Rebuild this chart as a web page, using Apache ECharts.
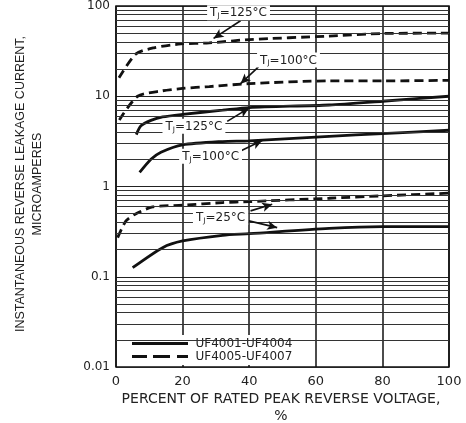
<!DOCTYPE html>
<html><head><meta charset="utf-8">
<script src="https://cdn.jsdelivr.net/npm/echarts@6/dist/echarts.min.js"></script>
<style>html,body{margin:0;padding:0;background:#fff}#c{width:466px;height:423px}</style>
</head><body><div id="c"></div>
<script>
// ---- data ----
const xTicks = [0, 20, 40, 60, 80, 100];
const yDecades = [0.01, 0.1, 1, 10, 100];
const yTickLabels = ['0.01', '0.1', '1', '10', '100'];
const legendNames = ['UF4001-UF4004', 'UF4005-UF4007'];

// UF4001-UF4004 (solid)
const solid125 = [[6.1,3.76],[7.5,4.7],[10.5,5.4],[14,5.9],[20,6.3],[32,7.0],[40,7.5],[64,8.0],[80,8.8],[100,10]];
const solid100 = [[7.1,1.43],[10.5,2.0],[13.5,2.4],[20,2.9],[32,3.15],[40,3.2],[64,3.6],[80,3.85],[100,4.2]];
const solid25  = [[5,0.126],[14,0.21],[20,0.249],[32,0.288],[40,0.3],[64,0.344],[80,0.36],[100,0.36]];
// UF4005-UF4007 (dashed)
const dash125 = [[0.9,16],[6,29.5],[11.4,34.4],[19.5,38],[28,39],[40,42.5],[64,46.4],[80,49.6],[100,50]];
const dash100 = [[1,5.45],[6.5,10],[14,11.5],[20,12.2],[28,12.8],[40,13.8],[64,14.8],[80,14.8],[100,15.0]];
const dash25  = [[0.5,0.271],[3,0.416],[5.6,0.49],[11,0.594],[20,0.62],[32,0.664],[40,0.68],[64,0.741],[80,0.788],[100,0.843]];

// annotations
const noteTemps = ['125', '100', '125', '100', '25'];
const noteAt = [[36.8,84],[51.8,25.2],[23.4,4.65],[28.4,2.17],[31.4,0.453]];
const arrowFrom = [[37.4,68.7],[42.8,21.2],[33.4,5.27],[37.4,2.47],[40.4,0.537],[39.9,0.416]];
const arrowTo   = [[29.3,43.7],[37.4,13.8],[39.9,7.38],[43.9,3.23],[46.9,0.636],[48.4,0.35]];

// ---- chart ----
const minorValues = [];
yDecades.slice(0, -1).forEach(d => { for (let k = 2; k <= 9; k++) minorValues.push(d * k); });

const chart = echarts.init(document.getElementById('c'), null, {renderer: 'canvas'});
const ink = '#111';
function curve(name, data, dashed) {
  return {
    type: 'line', name: name, data: data, smooth: 0.25, symbol: 'none', silent: true, z: 3,
    lineStyle: {color: ink, width: 2.8, type: dashed ? [9, 5] : 'solid', cap: 'butt'},
    itemStyle: {color: ink}
  };
}
const richStyles = {
  a: {fontFamily: 'DejaVu Sans', fontSize: 12, color: '#222', lineHeight: 14},
  s: {fontFamily: 'DejaVu Sans', fontSize: 7.5, color: '#222', lineHeight: 14, verticalAlign: 'bottom', padding: [4, 0, 0, 0]}
};
const solidIcon = 'path://M0,0h56v3h-56z';
const dashIcon = 'path://M0,0h15v3h-15zM21,0h17v3h-17zM45,0h11v3h-11z';

chart.setOption({
  animation: false,
  backgroundColor: '#fff',
  grid: {left: 116, right: 17, top: 6, bottom: 56, show: true, borderColor: '#111', borderWidth: 1.5, backgroundColor: 'transparent'},
  xAxis: {
    type: 'value', min: 0, max: 100, interval: 20,
    axisLine: {show: false}, axisTick: {show: false},
    splitLine: {show: true, lineStyle: {color: '#111', width: 1.5}},
    axisLabel: {fontFamily: 'DejaVu Sans', fontSize: 13, color: '#222', margin: 8,
      formatter: v => String(xTicks.find(t => t === v) ?? v)}
  },
  yAxis: {
    type: 'log', logBase: 10, min: yDecades[0], max: yDecades[yDecades.length - 1],
    axisLine: {show: false}, axisTick: {show: false},
    splitLine: {show: true, lineStyle: {color: '#222', width: 1}},
    axisLabel: {fontFamily: 'DejaVu Sans', fontSize: 12, color: '#222', margin: 6,
      formatter: v => { const i = yDecades.findIndex(d => Math.abs(Math.log10(d) - Math.log10(v)) < 1e-6); return i >= 0 ? yTickLabels[i] : ''; }}
  },
  legend: {
    data: [{name: legendNames[0], icon: solidIcon}, {name: legendNames[1], icon: dashIcon}],
    orient: 'vertical', left: 122, top: 335,
    backgroundColor: '#fff', padding: [2, 2, 2, 10], itemGap: 0,
    itemWidth: 57, itemHeight: 3,
    itemStyle: {color: ink, borderWidth: 0},
    textStyle: {fontFamily: 'DejaVu Sans', fontSize: 12, color: '#222', lineHeight: 13, padding: [0, 0, 0, 2]},
    selectedMode: false
  },
  graphic: [
    {type: 'text', x: 29, y: 184, rotation: Math.PI / 2, z: 10,
     style: {text: 'INSTANTANEOUS REVERSE LEAKAGE CURRENT,\nMICROAMPERES', align: 'center', verticalAlign: 'middle',
       font: '12.5px "Liberation Sans", Arial, sans-serif', fill: '#222', lineHeight: 17}},
    {type: 'text', x: 281, y: 408, z: 10,
     style: {text: 'PERCENT OF RATED PEAK REVERSE VOLTAGE,\n%', align: 'center', verticalAlign: 'middle',
       font: '14px "DejaVu Sans", sans-serif', fill: '#222', lineHeight: 17}}
  ],
  series: [
    {type: 'line', name: '_grid', data: [], silent: true, z: 1,
     markLine: {silent: true, symbol: ['none', 'none'], animation: false,
       lineStyle: {color: '#333', width: 1, type: 'solid'}, label: {show: false},
       data: minorValues.map(v => ({yAxis: v}))}},
    curve(legendNames[0], solid125, false),
    curve(legendNames[0], solid100, false),
    curve(legendNames[0], solid25, false),
    curve(legendNames[1], dash125, true),
    curve(legendNames[1], dash100, true),
    curve(legendNames[1], dash25, true),
    {type: 'line', name: '_notes', data: [], silent: true, z: 6,
     markLine: {silent: true, animation: false, symbol: ['none', 'arrow'], symbolSize: [7, 10],
       lineStyle: {color: ink, width: 1.6, type: 'solid'}, label: {show: false},
       data: arrowFrom.map((f, i) => [{coord: f}, {coord: arrowTo[i]}])},
     markPoint: {silent: true, animation: false, symbol: 'rect', symbolSize: 0,
       label: {show: true, position: 'inside', backgroundColor: '#fff', padding: [1, 3, 0, 3], rich: richStyles,
         formatter: p => '{a|T}{s|J}{a|=' + p.data.t + '°C}'},
       data: noteAt.map((c, i) => ({coord: c, t: noteTemps[i]}))}}
  ]
});
</script></body></html>
